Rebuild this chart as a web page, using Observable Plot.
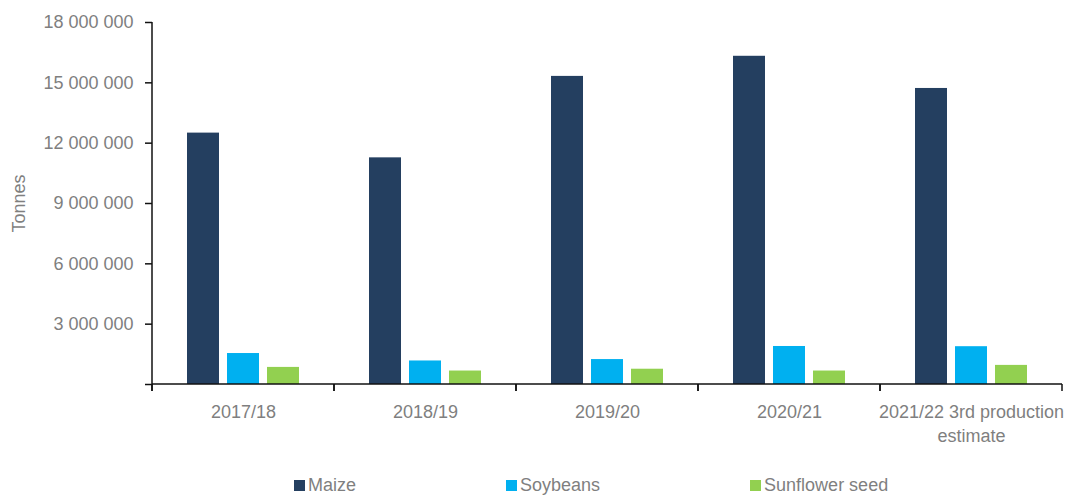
<!DOCTYPE html>
<html>
<head>
<meta charset="utf-8">
<script src="https://cdn.jsdelivr.net/npm/d3@7"></script>
<script src="https://cdn.jsdelivr.net/npm/@observablehq/plot@0.6"></script>
<style>
  body { margin: 0; background: #fff; }
  #legend {
    display: flex; align-items: center; height: 24px; margin-top: 5px;
    padding-left: 294px; gap: 150px;
    font-family: "Liberation Sans", Arial, sans-serif;
    font-size: 18px; color: #7f7f7f;
  }
  #legend .item { display: flex; align-items: center; }
  #legend .sw { width: 11px; height: 11px; margin-right: 3px; }
</style>
</head>
<body>
<div id="chart"></div>
<div id="legend"></div>
<script>
const categories = ["2017/18", "2018/19", "2019/20", "2020/21", "2021/22 3rd production estimate"];
const seriesNames = ["Maize", "Soybeans", "Sunflower seed"];
const maize     = [12500000, 11270000, 15320000, 16320000, 14720000];
const soybeans  = [1540000, 1170000, 1240000, 1890000, 1880000];
const sunflower = [850000, 670000, 760000, 670000, 950000];
const seriesColors = ["#243F60", "#00B0F0", "#92D050"];
const yTicks = [0, 3000000, 6000000, 9000000, 12000000, 15000000, 18000000];
const yLabel = "Tonnes";

const seriesValues = [maize, soybeans, sunflower];
const rows = categories.flatMap((c, i) =>
  seriesNames.map((s, j) => ({category: c, series: s, value: seriesValues[j][i]})));

const FONT = '"Liberation Sans", Arial, sans-serif';
const TEXT = "#7f7f7f";
const fmt = v => v === 0 ? "" : d3.format(",")(v).replace(/,/g, " ");
const wrap = c => c.replace(" estimate", "\nestimate");

// axis lines: baseline, boundary ticks and vertical y axis line, drawn from the scales
const axisFrame = Plot.ruleY(categories, {
  fx: d => d,
  y: () => 0,
  render(index, scales) {
    const [x0, x1] = scales.x.range();
    const yb = scales.y(0), yt = scales.y(yTicks[yTicks.length - 1]);
    const cat = categories[index[0]];
    const g = d3.create("svg:g").attr("stroke", "#111").attr("stroke-width", 1.5).attr("fill", "none");
    g.append("line").attr("x1", x0).attr("x2", x1).attr("y1", yb).attr("y2", yb);
    g.append("line").attr("x1", x0).attr("x2", x0).attr("y1", yb).attr("y2", yb + 7);
    g.append("line").attr("x1", x1).attr("x2", x1).attr("y1", yb).attr("y2", yb + 7);
    if (cat === categories[0]) {
      g.append("line").attr("x1", x0).attr("x2", x0).attr("y1", yt).attr("y2", yb + 7);
    }
    return g.node();
  }
});

const chart = Plot.plot({
  width: 1067,
  height: 468,
  marginTop: 22,
  marginBottom: 84,
  marginLeft: 152,
  marginRight: 5,
  style: {fontFamily: FONT, fontSize: "18px", background: "#fff"},
  fx: {domain: categories, padding: 0, label: null, axis: null},
  x: {domain: seriesNames, paddingInner: 0.2, paddingOuter: 0.875, axis: null},
  y: {domain: [0, 18000000], axis: null},
  color: {domain: seriesNames, range: seriesColors},
  marks: [
    Plot.barY(rows, {fx: "category", x: "series", y: "value", fill: "series"}),
    axisFrame,
    Plot.axisY({
      ticks: yTicks, tickFormat: fmt, tickSize: 7, tickPadding: 12,
      stroke: "#111", strokeWidth: 1.5, fill: TEXT, fontSize: 18,
      label: yLabel, labelAnchor: "center", labelOffset: 140, labelArrow: "none"
    }),
    Plot.axisFx({
      anchor: "bottom",
      tickFormat: wrap, tickSize: 0, tickPadding: 17, fill: TEXT, fontSize: 18,
      lineHeight: 1.3, label: null
    })
  ]
});
document.getElementById("chart").appendChild(chart);

const legend = d3.select("#legend");
seriesNames.forEach((s, i) => {
  const it = legend.append("div").attr("class", "item");
  it.append("div").attr("class", "sw").style("background", seriesColors[i]);
  it.append("span").text(s);
});
</script>
</body>
</html>
